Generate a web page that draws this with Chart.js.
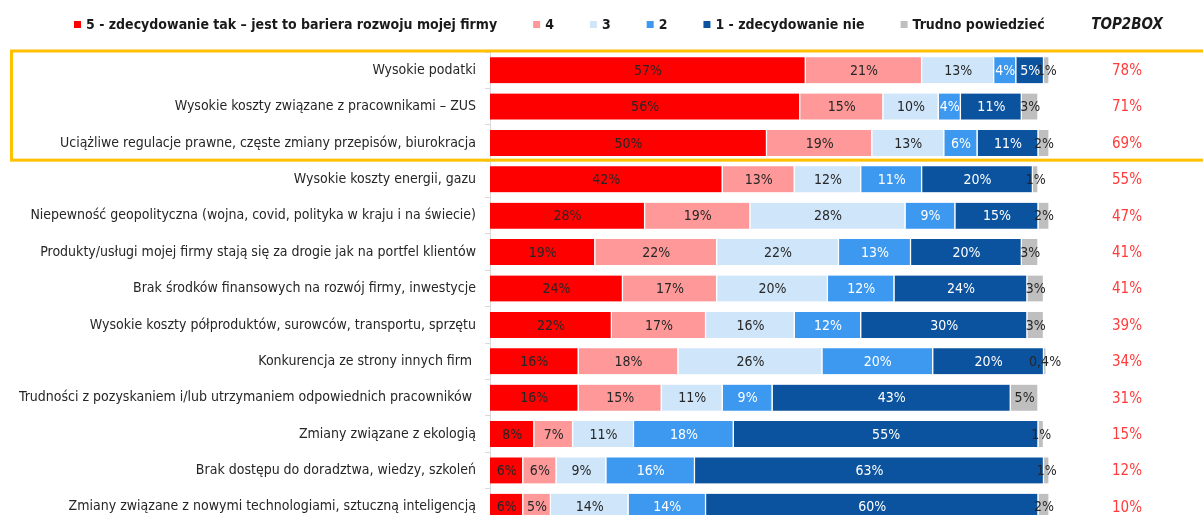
<!DOCTYPE html>
<html lang="pl">
<head>
<meta charset="UTF-8">
<script src="https://cdn.jsdelivr.net/npm/chart.js"></script>
<title>Bariery rozwoju firmy</title>
<style>
    html, body { margin: 0; background: #fff; overflow: hidden; }
    .wykres { width: 1203px; height: 515px; overflow: hidden; }
    #myChart { display: block; }
</style>
</head>
<body>
<div class="wykres"><canvas id="myChart" width="1203" height="530"></canvas></div>
<script>
const kategorie = [
    'Wysokie podatki',
    'Wysokie koszty związane z pracownikami – ZUS',
    'Uciążliwe regulacje prawne, częste zmiany przepisów, biurokracja',
    'Wysokie koszty energii, gazu',
    'Niepewność geopolityczna (wojna, covid, polityka w kraju i na świecie)',
    'Produkty/usługi mojej firmy stają się za drogie jak na portfel klientów',
    'Brak środków finansowych na rozwój firmy, inwestycje',
    'Wysokie koszty półproduktów, surowców, transportu, sprzętu',
    'Konkurencja ze strony innych firm ',
    'Trudności z pozyskaniem i/lub utrzymaniem odpowiednich pracowników ',
    'Zmiany związane z ekologią',
    'Brak dostępu do doradztwa, wiedzy, szkoleń',
    'Zmiany związane z nowymi technologiami, sztuczną inteligencją'
]

const odp5 = [57, 56, 50, 42, 28, 19, 24, 22, 16, 16, 8, 6, 6]
const odp4 = [21, 15, 19, 13, 19, 22, 17, 17, 18, 15, 7, 6, 5]
const odp3 = [13, 10, 13, 12, 28, 22, 20, 16, 26, 11, 11, 9, 14]
const odp2 = [4, 4, 6, 11, 9, 13, 12, 12, 20, 9, 18, 16, 14]
const odp1 = [5, 11, 11, 20, 15, 20, 24, 30, 20, 43, 55, 63, 60]
const trudno = [1, 3, 2, 1, 2, 3, 3, 3, 0.4, 5, 1, 1, 2]
const top2box = [78, 71, 69, 55, 47, 41, 41, 39, 34, 31, 15, 12, 10]

const czcionka = "'Liberation Sans Narrow', 'DejaVu Sans Condensed', sans-serif"

const serie = [
    { label: '5 - zdecydowanie tak – jest to bariera rozwoju mojej firmy', data: odp5, kolor: '#FF0000', tekst: '#262626' },
    { label: '4', data: odp4, kolor: '#FF9999', tekst: '#262626' },
    { label: '3', data: odp3, kolor: '#CFE5FA', tekst: '#262626' },
    { label: '2', data: odp2, kolor: '#3D98F0', tekst: '#FFFFFF' },
    { label: '1 - zdecydowanie nie', data: odp1, kolor: '#0B539E', tekst: '#FFFFFF' },
    { label: 'Trudno powiedzieć', data: trudno, kolor: '#BFBFBF', tekst: '#262626' }
]

// etykiety z procentami na slupkach
const etykietyPlugin = {
    id: 'etykiety',
    afterDatasetsDraw(chart) {
        const ctx = chart.ctx
        ctx.save()
        ctx.font = '14px ' + czcionka
        ctx.textAlign = 'center'
        ctx.textBaseline = 'middle'
        chart.data.datasets.forEach(function (ds, i) {
            const meta = chart.getDatasetMeta(i)
            meta.data.forEach(function (bar, j) {
                const p = bar.getProps(['x', 'base', 'y'], true)
                ctx.fillStyle = serie[i].tekst
                const txt = String(ds.data[j]).replace('.', ',') + '%'
                ctx.fillText(txt, (p.x + p.base) / 2, p.y + 1)
            })
        })
        ctx.restore()
    }
}

// legenda, kolumna TOP2BOX i ramka
const dodatkiPlugin = {
    id: 'dodatki',
    afterDraw(chart) {
        const ctx = chart.ctx
        const area = chart.chartArea
        const yScale = chart.scales.y
        const pasek = (area.bottom - area.top) / kategorie.length
        const kolX = 1127

        ctx.save()
        // legenda
        ctx.font = 'bold 14px ' + czcionka
        ctx.textBaseline = 'middle'
        ctx.textAlign = 'left'
        let x = 74
        const ly = 25
        serie.forEach(function (s) {
            ctx.fillStyle = s.kolor
            ctx.fillRect(x, ly - 4, 7, 7)
            ctx.fillStyle = '#1A1A1A'
            ctx.fillText(s.label, x + 12, ly)
            x += 12 + ctx.measureText(s.label).width + 36
        })
        ctx.font = 'italic bold 15px ' + czcionka
        ctx.textAlign = 'center'
        ctx.fillText('TOP2BOX', kolX, ly)

        // wartosci TOP2BOX
        ctx.font = '15px ' + czcionka
        ctx.fillStyle = '#FF3B3B'
        top2box.forEach(function (v, j) {
            ctx.fillText(v + '%', kolX, yScale.getPixelForValue(j) + 1)
        })

        // ramka wokol trzech pierwszych barier
        ctx.strokeStyle = '#FFC000'
        ctx.lineWidth = 3
        ctx.strokeRect(11.5, area.top - 1, 1300, pasek * 3)
        ctx.restore()
    }
}

const config = {
    type: 'bar',
    data: {
        labels: kategorie,
        datasets: serie.map(function (s) {
            return {
                label: s.label,
                data: s.data,
                backgroundColor: s.kolor,
                borderColor: '#FFFFFF',
                borderWidth: { left: 0, right: 1.5, top: 0, bottom: 0 },
                borderSkipped: false,
                barThickness: 26,
                clip: false
            }
        })
    },
    options: {
        indexAxis: 'y',
        responsive: false,
        animation: false,
        // canvas wyzszy niz okno - ostatni wiersz jest uciety jak w oryginale
        layout: { padding: { top: 52, bottom: 5, left: 0, right: 159 } },
        plugins: {
            legend: { display: false },
            tooltip: { enabled: false }
        },
        scales: {
            x: { stacked: true, min: 0, max: 100, display: false },
            y: {
                stacked: true,
                afterFit: function (scale) {
                    scale.width = 490
                    scale.paddingTop = 0
                    scale.paddingBottom = 0
                },
                grid: { display: true, drawOnChartArea: false, tickLength: 5, color: '#D9D9D9', offset: true },
                border: { display: true, color: '#D9D9D9' },
                ticks: { color: '#262626', padding: 9, font: { size: 14, family: czcionka } }
            }
        }
    },
    plugins: [etykietyPlugin, dodatkiPlugin]
}

var myChart = new Chart(document.getElementById('myChart'), config)
</script>
</body>
</html>
